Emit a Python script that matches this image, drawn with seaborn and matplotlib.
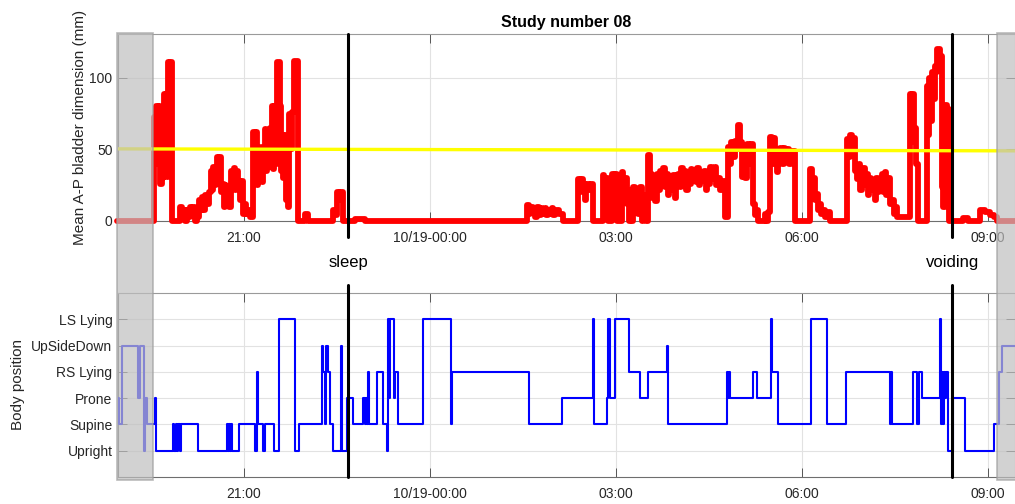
import numpy as np
import pandas as pd
import matplotlib
matplotlib.use("Agg")
import matplotlib.pyplot as plt
import seaborn as sns
from matplotlib.patches import Rectangle
from matplotlib.transforms import blended_transform_factory

# ---------------- data (time = minutes after 10/18 19:00) ----------------
tick_minutes = [120, 300, 480, 660, 840]
tick_labels = ["21:00", "10/19-00:00", "03:00", "06:00", "09:00"]
xlim_minutes = [-1.6, 866.4]

record_start = 32.7      # start of valid recording (left grey band ends)
record_end = 849.0       # end of valid recording (right grey band starts)

event_labels = ["sleep", "voiding"]
event_minutes = [221.0, 805.5]

threshold_minutes = [-1.6, 866.4]
threshold_mm = [50.4, 49.0]

bladder_minutes = [
    -3, 33.2, 34.5, 35.5, 37, 38, 39.5, 40.5, 41.5, 42.2, 43, 44, 45, 45.8, 46.8, 48, 48.8, 50.6,
    58.4, 60, 61.3, 63.2, 65.2, 66.5, 68.1, 69.5, 71, 72.9, 75, 76.8, 78.5, 79.7, 81.6, 82.6, 84.5, 86, 88.4, 89.5,
    90.3, 91.5, 93, 94.2, 95.5, 96.5, 98, 99, 100.5, 101.9, 103, 104.8, 106, 107.7, 109, 110.6, 112, 113, 114.5, 116,
    117.4, 119.4, 121, 122.3, 124, 126.1,
    129, 130.5, 131.5, 133, 134, 135.5, 136.5, 138, 139, 140.6, 142, 143, 144.5, 145.5, 147.4, 148.5, 149.5, 151, 152.3, 155.2,
    156.1, 157.1, 158.5, 159.5, 161, 162.5, 164, 165.5, 166.8, 168.7, 172.6,
    179.4, 182.3, 206.4, 208, 210.3, 212, 213.5, 216.1, 227.7, 237.4,
    394.2, 396, 397.5, 400, 401.5, 403.9, 405.5, 407.7, 409, 411.6, 413, 414.5, 416.4, 418, 419.5, 421.3, 425, 429,
    443.5, 445, 446.5, 448.4, 450, 451.5, 454, 456, 458, 467.7, 469, 470.5, 472.6, 476.4, 478, 479.5, 481.3, 486.1, 487.5, 489,
    491, 492.5, 493.9, 495.5, 497, 499, 500.5, 502, 503.5, 505, 506.5, 508, 509.3,
    511.3, 513.2, 515, 516.5, 518, 520, 521.5, 523, 524.5, 525.8, 527.5, 529, 530.5, 532, 534, 535.5, 537, 538.5, 540.3, 542,
    543.5, 545.1, 546.5, 548, 549.5, 551, 552.5, 554, 556, 557.5, 559, 560.5, 562, 564, 565.5, 567, 568.5, 570, 571.5, 573,
    574.5, 576.1, 577.5, 579, 581, 583, 585.8,
    588.7, 590, 591.5, 593, 595.5, 597, 598.4, 600, 602.2, 604, 605.5, 607.1, 609, 610.5, 612.9, 614.5, 616.7, 618, 624, 625.5,
    627.4, 629.3, 631, 633.2, 634.5, 636.1, 637.5, 639, 641, 642.5, 644, 646, 648, 650, 653.5,
    668, 669.5, 670.9, 672.5, 674, 676, 677.7, 679, 681, 683, 685, 687.4,
    703.8, 705, 706.8, 708.5, 710, 711.5, 713.5, 715, 716.5, 718, 719.3, 721, 722.5, 724, 725.5, 727, 729, 730.5, 732, 733.5,
    735, 737.7, 739, 740.5, 742, 743.5, 745, 747.4, 749, 750.5, 752.2,
    764.8, 766, 767, 768.5, 769.6, 771, 772.5, 781.3, 782.5, 783.5, 785, 786.1, 787.5, 789, 790, 791, 793.5, 795.8, 797, 798.7,
    800.5, 802.6, 816.1, 820.9, 832.5, 837.4, 842.2, 846.1, 849, 866.4,
]
bladder_mm = [
    0, 73, 55, 80, 40, 80, 26, 78, 30, 66, 89, 35, 89, 31, 111, 95, 111, 0,
    10, 4, 8, 0, 8, 3, 10, 5, 10, 0, 3, 15, 8, 17, 8, 18, 12, 20, 35, 22,
    38, 25, 30, 45, 28, 45, 20, 26, 10, 25, 12, 18, 10, 35, 25, 37, 22, 35, 28, 15,
    28, 5, 12, 5, 8, 3,
    62, 48, 62, 25, 52, 28, 50, 27, 52, 64, 35, 60, 38, 65, 80, 36, 80, 40, 111, 80,
    35, 60, 30, 60, 15, 10, 75, 50, 76, 112, 0,
    5, 0, 8, 4, 20, 15, 20, 0, 1.5, 0,
    11, 5, 10, 8, 3, 10, 4, 9, 5, 9, 4, 8, 5, 9, 4, 8, 5, 0,
    29, 20, 29, 26, 15, 26, 22, 26, 0, 32, 20, 30, 0, 33, 20, 33, 0, 34, 25, 30,
    12, 0, 22, 0, 24, 10, 22, 5, 24, 0, 18, 5, 0,
    46, 33, 16, 30, 14, 33, 22, 35, 25, 37, 24, 33, 18, 30, 22, 32, 16, 28, 33, 24,
    37, 27, 35, 22, 33, 26, 36, 28, 35, 27, 37, 25, 34, 28, 35, 22, 32, 26, 38, 29,
    36, 38, 25, 30, 22, 28, 3,
    52, 40, 55, 45, 56, 50, 67, 55, 31, 45, 30, 54, 40, 54, 12, 4, 8, 0, 5, 0,
    6, 59, 40, 58, 50, 34, 45, 51, 40, 51, 45, 50, 40, 49, 0,
    36, 20, 30, 15, 19, 8, 12, 5, 8, 3, 6, 0,
    57, 45, 60, 50, 58, 35, 29, 40, 22, 35, 37, 25, 33, 18, 30, 22, 24, 15, 30, 20,
    28, 33, 20, 34, 18, 30, 12, 15, 5, 10, 3,
    89, 70, 89, 55, 65, 40, 0, 94, 60, 100, 70, 104, 85, 108, 104, 120, 115, 24, 10, 81,
    78, 0, 2, 0, 8, 6, 4, 3, 0, 0,
]

position_names = ["Upright", "Supine", "Prone", "RS Lying", "UpSideDown", "LS Lying"]
position_minutes = [
    -3, -1, 2, 18, 19.5, 23.6, 25, 26.5, 34, 35, 51.6, 53, 54.5, 55.5, 56.5,
    58, 59, 75.8, 103.9, 105, 106, 107, 108, 109, 115.5, 131, 132.9, 133.9,
    138.7, 140.6, 149.4, 154.2, 169.7, 173.5, 195.8, 196.8, 199, 200, 202,
    203.5, 206.4, 214.2, 215.2, 220, 225.8, 235.5, 237, 238, 239.3, 240.3,
    241.2, 249, 255, 258.8, 260, 261, 262, 265, 266.5, 269, 293.5, 320.6,
    321.6, 396.1, 428.1, 458, 459, 471.6, 473, 474.5, 479.3, 492.9, 503.5,
    511.3, 529.6, 530.6, 587.7, 588.5, 589.2, 590.6, 612.9, 616.7, 630.3,
    631.3, 637.1, 669, 684.5, 702.9, 745.5, 746.5, 747.4, 767.7, 771.6,
    773.5, 776.5, 793.8, 794.8, 795.8, 797, 798, 799, 800, 801.6, 806.4,
    818.1, 846.1, 850.9, 853.8, 866.4,
]
position_level = [
    3, 2, 5, 3, 5, 1, 3, 2, 3, 1, 2, 1, 2, 1, 2,
    1, 2, 1, 2, 1, 2, 1, 2, 1, 2, 1, 4, 2,
    1, 2, 1, 6, 1, 2, 5, 4, 2, 5, 4,
    2, 1, 5, 1, 3, 2, 3, 2, 3, 2, 4,
    2, 4, 2, 1, 6, 3, 6, 3, 4, 2, 6, 2,
    4, 2, 3, 6, 2, 3, 6, 3, 6, 4, 3,
    4, 5, 2, 4, 3, 4, 3, 4, 3, 6,
    4, 2, 6, 2, 4, 2, 4, 2, 4, 2,
    4, 3, 6, 2, 4, 2, 4, 3, 4, 1, 3,
    1, 2, 4, 5, 5,
]

# ---------------- figure ----------------
sns.set_theme(style="white")
plt.rcParams["font.family"] = ["Liberation Sans", "DejaVu Sans"]

W, H = 1015, 504
fig = plt.figure(figsize=(W / 100, H / 100), dpi=100)
ax1 = fig.add_axes([118 / W, 1 - 221 / H, 1 - 118 / W, (221 - 33.5) / H])
ax2 = fig.add_axes([118 / W, 1 - 477 / H, 1 - 118 / W, (477 - 293) / H])

bladder = pd.DataFrame({"t": bladder_minutes, "mm": bladder_mm})
position = pd.DataFrame({"t": position_minutes, "lvl": position_level})

sns.lineplot(data=bladder, x="t", y="mm", ax=ax1, color="#ff0000", lw=4.2,
             drawstyle="steps-post", estimator=None, sort=False,
             clip_on=False, solid_joinstyle="round", solid_capstyle="round",
             zorder=3)
sns.lineplot(x=threshold_minutes, y=threshold_mm, ax=ax1, color="#ffff00",
             lw=2.4, estimator=None, sort=False, zorder=4)
sns.lineplot(data=position, x="t", y="lvl", ax=ax2, color="#0000ff", lw=1.5,
             drawstyle="steps-post", estimator=None, sort=False, zorder=3)

tick_col = "#262626"
for ax in (ax1, ax2):
    ax.set_xlim(xlim_minutes)
    ax.set_xticks(tick_minutes)
    ax.set_xticklabels(tick_labels)
    ax.set_xlabel("")
    ax.grid(True, color="#e2e2e2", lw=0.8)
    ax.set_axisbelow(True)
    ax.tick_params(axis="both", direction="in", length=6.5, width=0.7,
                   color="#555555", labelcolor=tick_col, labelsize=10,
                   top=True, right=True, bottom=True, left=True)
    ax.tick_params(axis="x", pad=7)
    ax.tick_params(axis="y", pad=4)
    for side, sp in ax.spines.items():
        sp.set_visible(True)
        sp.set_linewidth(0.8)
        sp.set_color("#9a9a9a" if side in ("top", "right") else "#6e6e6e")

ax1.set_ylim(0, 131)
ax1.set_yticks([0, 50, 100])
ax1.set_ylabel("Mean A-P bladder dimension (mm)", fontsize=11, color=tick_col)
ax1.yaxis.set_label_coords(-0.035, 0.5)
ax1.set_title("Study number 08", fontweight="bold", fontsize=11.5, pad=5,
              color="black")

ax2.set_ylim(0, 7)
ax2.set_yticks(range(1, len(position_names) + 1))
ax2.set_yticklabels(position_names)
ax2.set_ylabel("Body position", fontsize=11, color=tick_col)
ax2.yaxis.set_label_coords(-0.104, 0.5)

tr1 = blended_transform_factory(ax1.transData, ax1.transAxes)
for lab, t in zip(event_labels, event_minutes):
    ax1.axvline(t, ymin=-0.085, ymax=1.0, color="black", lw=2.2,
                clip_on=False, zorder=6)
    ax2.axvline(t, ymin=0.0, ymax=1.043, color="black", lw=2.2,
                clip_on=False, zorder=6)
    ax1.text(t, -0.22, lab, transform=tr1, ha="center", va="center",
             fontsize=12, color="black")

# grey bands marking time outside the valid recording
trb = blended_transform_factory(ax1.transData, fig.transFigure)
y0, y1 = 1 - 480 / H, 1 - 32.5 / H
for xa, xb in [(xlim_minutes[0] - 1, record_start), (record_end, xlim_minutes[1] + 20)]:
    fig.add_artist(Rectangle((xa, y0), xb - xa, y1 - y0, transform=trb,
                             facecolor=(0.75, 0.75, 0.75), alpha=0.7,
                             edgecolor=(0.62, 0.62, 0.62), lw=1.2,
                             zorder=10, clip_on=False))

fig.savefig("out.png", dpi=100)
